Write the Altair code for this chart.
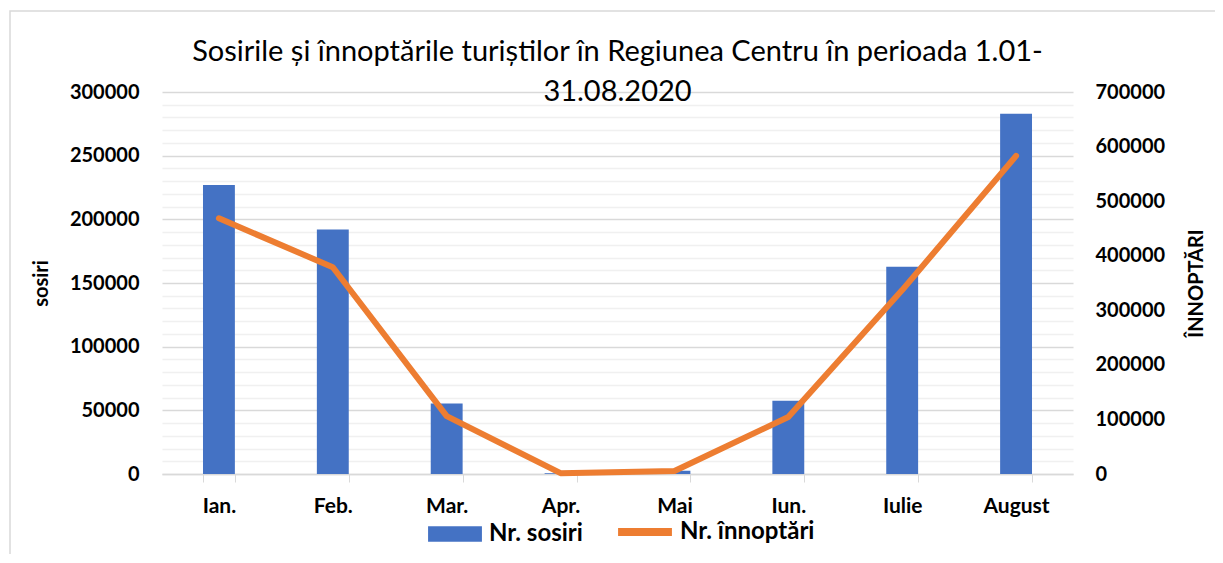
import altair as alt
import pandas as pd

months = ["Ian.", "Feb.", "Mar.", "Apr.", "Mai", "Iun.", "Iulie", "August"]
sosiri = [227000, 192000, 55300, 500, 2600, 57500, 162800, 283000]
innoptari = [468600, 378800, 106000, 1500, 5500, 104500, 337000, 583000]
series_names = ["Nr. sosiri", "Nr. înnoptări"]
title_lines = ["Sosirile și înnoptările turiștilor în Regiunea Centru în perioada 1.01-", "31.08.2020"]
left_ticks = list(range(0, 300001, 10000))
right_ticks = list(range(0, 700001, 100000))

FONT = "Lato"
BLUE = "#4472C4"
ORANGE = "#ED7D31"

df_bar = pd.DataFrame({"luna": months, "val": sosiri, "serie": series_names[0]})
df_line = pd.DataFrame({"luna": months, "val": innoptari, "serie": series_names[1]})

x_enc = alt.X(
    "luna:N", sort=months, title=None,
    scale=alt.Scale(paddingInner=0.72, paddingOuter=0.36),
    axis=alt.Axis(
        tickBand="extent", ticks=True, tickSize=8, tickColor="#d9d9d9",
        domain=True, domainColor="#d9d9d9", domainWidth=1.5,
        labelAngle=0, labelFont=FONT, labelFontSize=21, labelFontWeight="bold",
        labelColor="#000000", labelPadding=13, grid=False,
    ),
)

legend_common = dict(
    orient="none", direction="horizontal", title=None,
    labelFont=FONT, labelFontSize=24, labelFontWeight="bold", labelColor="#000000",
    symbolSize=2900, padding=0, symbolOpacity=1,
)

bars = alt.Chart(df_bar).mark_bar(color=BLUE).encode(
    x=x_enc,
    y=alt.Y(
        "val:Q", title="sosiri",
        scale=alt.Scale(domain=[0, 300000], nice=False),
        axis=alt.Axis(
            orient="left", values=left_ticks, format="d",
            labelExpr="datum.value % 50000 === 0 ? datum.label : ''",
            labelOverlap=False, labelFont=FONT, labelFontSize=20, labelFontWeight="bold",
            labelColor="#000000", labelPadding=23, ticks=False, domain=False,
            grid=True,
            gridColor={"condition": {"test": "datum.value % 50000 === 0", "value": "#d9d9d9"}, "value": "#f0f0f0"},
            gridWidth=1.5,
            titleFont=FONT, titleFontSize=20, titleFontWeight="bold", titleColor="#000000",
            titlePadding=18,
        ),
    ),
    color=alt.Color(
        "serie:N",
        scale=alt.Scale(domain=[series_names[0]], range=[BLUE]),
        legend=alt.Legend(symbolType="M-1,-0.29H1V0.29H-1Z", symbolStrokeWidth=0,
                          legendX=266, legendY=415, labelOffset=7, **legend_common),
    ),
)

line = alt.Chart(df_line).mark_line(strokeWidth=6, strokeCap="round", strokeJoin="round").encode(
    x=x_enc,
    y=alt.Y(
        "val:Q", title="ÎNNOPTĂRI",
        scale=alt.Scale(domain=[0, 700000], nice=False),
        axis=alt.Axis(
            orient="right", values=right_ticks, format="d",
            labelFont=FONT, labelFontSize=20, labelFontWeight="bold", labelColor="#000000",
            labelPadding=22, ticks=False, domain=False, grid=False,
            titleFont=FONT, titleFontSize=20, titleFontWeight="bold", titleColor="#000000",
            titleAngle=270, titlePadding=42,
        ),
    ),
    stroke=alt.Stroke(
        "serie:N",
        scale=alt.Scale(domain=[series_names[1]], range=[ORANGE]),
        legend=alt.Legend(symbolType="M-1,0H1", symbolStrokeWidth=8,
                          legendX=452, legendY=409, labelOffset=4, **legend_common),
    ),
)

border = alt.Chart(alt.Data(values=[{"k": 1}])).mark_rect(
    fill="transparent", stroke="#d9d9d9", strokeWidth=1.5
).encode(
    x=alt.value(-152), x2=alt.value(1070), y=alt.value(-81), y2=alt.value(500)
)

chart = alt.layer(border, bars, line).resolve_scale(y="independent").properties(
    width=911, height=382,
    autosize=alt.AutoSizeParams(type="none"),
    padding={"left": 154, "top": 84, "right": 142, "bottom": 80},
    title=alt.Title(
        text=title_lines, font=FONT, fontSize=29, fontWeight="normal", color="#000000",
        anchor="middle", offset=-97, lineHeight=40,
    ),
).configure_view(stroke=None)

chart.save("out.html", embed_options={"renderer": "svg", "actions": False})
